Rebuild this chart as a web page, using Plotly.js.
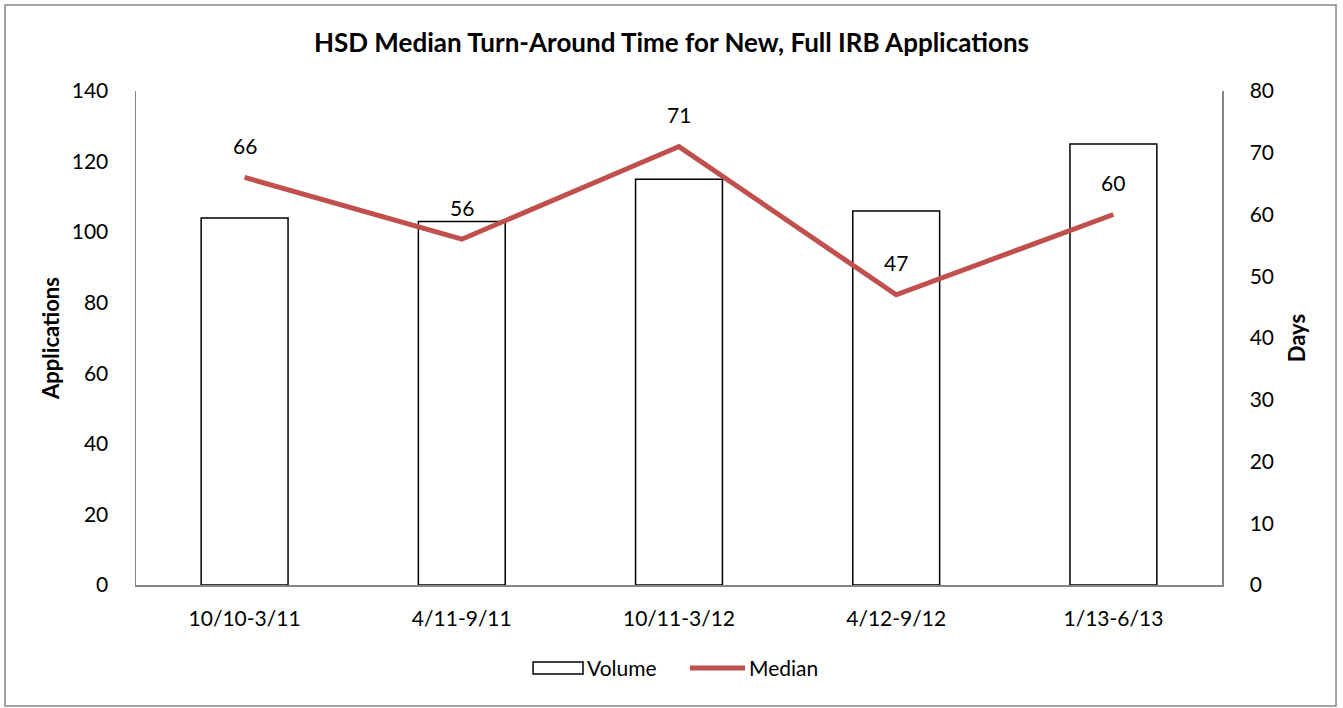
<!DOCTYPE html>
<html>
<head>
<meta charset="utf-8">
<script src="https://cdn.plot.ly/plotly-3.0.1.min.js"></script>
<style>html,body{margin:0;padding:0;background:#fff;}#chart{width:1343px;height:708px;}</style>
</head>
<body>
<div id="chart"></div>
<script>
var categories = ["10/10-3/11", "4/11-9/11", "10/11-3/12", "4/12-9/12", "1/13-6/13"];
var volume = [104, 103, 115, 106, 125];
var median = [66, 56, 71, 47, 60];
var seriesNames = ["Volume", "Median"];

var FONT = "Lato, 'Open Sans', sans-serif";
var FS = 21;

var traces = [
  {
    type: "bar", name: seriesNames[0], x: categories, y: volume,
    marker: {color: "#ffffff", line: {color: "#000000", width: 1.5}},
    showlegend: false
  },
  {
    type: "scatter", mode: "lines", name: seriesNames[1], x: categories, y: median,
    yaxis: "y2", line: {color: "#C0504D", width: 5}, showlegend: false
  }
];

var annotations = median.map(function (v, i) {
  return {x: categories[i], y: v, xref: "x", yref: "y2", text: String(v),
    showarrow: false, yshift: 32, font: {family: FONT, size: FS, color: "#000"}};
});
// legend (drawn manually to match the wide box symbol)
annotations.push({xref: "paper", yref: "paper", x: 0.4134, y: -0.168, xanchor: "left", yanchor: "middle",
  text: seriesNames[0], showarrow: false, font: {family: FONT, size: FS, color: "#000"}});
annotations.push({xref: "paper", yref: "paper", x: 0.5626, y: -0.168, xanchor: "left", yanchor: "middle",
  text: seriesNames[1], showarrow: false, font: {family: FONT, size: FS, color: "#000"}});

var layout = {
  width: 1343, height: 708,
  margin: {l: 136, r: 121, t: 91, b: 123},
  paper_bgcolor: "#fff", plot_bgcolor: "#fff",
  font: {family: FONT, size: FS, color: "#000"},
  title: {text: "<b>HSD Median Turn-Around Time for New, Full IRB Applications</b>",
    font: {family: FONT, size: 26, color: "#000"}, x: 0.5, xanchor: "center", y: 0.94, yanchor: "middle"},
  bargap: 0.6,
  showlegend: false,
  xaxis: {type: "category", showline: true, linecolor: "#868686", linewidth: 1.5,
    showgrid: false, zeroline: false, ticks: "", ticklabelstandoff: 14,
    tickfont: {family: FONT, size: FS}},
  yaxis: {range: [0, 140], dtick: 20, showline: true, linecolor: "#868686", linewidth: 1.5,
    showgrid: false, zeroline: false, ticks: "", ticklabelstandoff: 22,
    title: {text: "<b>Applications</b>", font: {family: FONT, size: 22}, standoff: 6},
    tickfont: {family: FONT, size: FS}},
  yaxis2: {range: [0, 80], dtick: 10, overlaying: "y", side: "right", showline: true,
    linecolor: "#868686", linewidth: 1.5, showgrid: false, zeroline: false, ticks: "",
    ticklabelstandoff: 22,
    title: {text: "<b>Days</b>", font: {family: FONT, size: 22}, standoff: 16},
    tickfont: {family: FONT, size: FS}},
  annotations: annotations,
  shapes: [
    {type: "rect", xref: "paper", yref: "paper",
      x0: -0.1206, x1: 1.105, y0: -0.245, y1: 1.174,
      line: {color: "#868686", width: 1.5}, fillcolor: "rgba(0,0,0,0)", layer: "below"},
    {type: "rect", xref: "paper", yref: "paper",
      x0: 0.3656, x1: 0.4116, y0: -0.1802, y1: -0.1559,
      line: {color: "#000", width: 1.5}, fillcolor: "#fff"},
    {type: "line", xref: "paper", yref: "paper",
      x0: 0.5101, x1: 0.5608, y0: -0.168, y1: -0.168,
      line: {color: "#C0504D", width: 5}}
  ]
};

Plotly.newPlot("chart", traces, layout, {displayModeBar: false, staticPlot: true});
</script>
</body>
</html>
